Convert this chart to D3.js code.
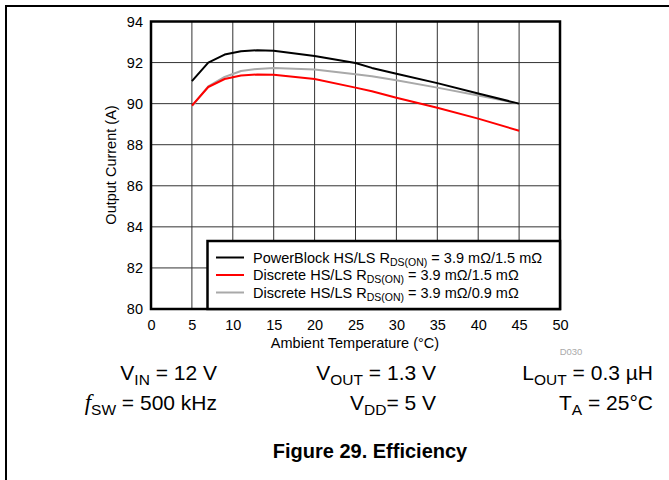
<!DOCTYPE html>
<html><head><meta charset="utf-8">
<script src="https://cdn.jsdelivr.net/npm/d3@7"></script>
<style>body{margin:0;background:#fff}svg{display:block;font-family:Arial,"Liberation Sans",sans-serif}</style>
</head><body><svg id="c" width="669" height="480"></svg>
<script>
const temps = [5, 7, 9, 11, 13, 15, 20, 25, 27, 30, 35, 40, 45];
const powerBlock = [91.1, 92.0, 92.39, 92.55, 92.6, 92.57, 92.32, 91.98, 91.74, 91.46, 91.0, 90.49, 90.0];
const discrete15 = [89.9, 90.81, 91.2, 91.37, 91.42, 91.41, 91.2, 90.78, 90.6, 90.29, 89.8, 89.27, 88.68];
const discrete09 = [89.87, 90.84, 91.3, 91.59, 91.69, 91.74, 91.66, 91.43, 91.33, 91.14, 90.78, 90.4, 90.0];
const xTicks = [0, 5, 10, 15, 20, 25, 30, 35, 40, 45, 50];
const yTicks = [80, 82, 84, 86, 88, 90, 92, 94];
const seriesNames = ["PowerBlock HS/LS R", "Discrete HS/LS R", "Discrete HS/LS R"];
const seriesValues = ["3.9 mΩ/1.5 mΩ", "3.9 mΩ/1.5 mΩ", "3.9 mΩ/0.9 mΩ"];
const seriesColors = ["#000000", "#ff0000", "#a9a9a9"];

const svg = d3.select("#c");
svg.append("path").attr("d","M6,480V6H669").attr("fill","none").attr("stroke","#000").attr("stroke-width",2);

const x = d3.scaleLinear().domain([0,50]).range([151,560]);
const y = d3.scaleLinear().domain([80,94]).range([309,21.5]);

const g = svg.append("g");
g.selectAll(".vg").data(xTicks).join("line").attr("x1",d=>x(d)).attr("x2",d=>x(d)).attr("y1",y(80)).attr("y2",y(94)).attr("stroke","#333").attr("stroke-width",1);
g.selectAll(".hg").data(yTicks).join("line").attr("x1",x(0)).attr("x2",x(50)).attr("y1",d=>y(d)).attr("y2",d=>y(d)).attr("stroke","#333").attr("stroke-width",1);

const xa = svg.append("g").attr("transform",`translate(0,${y(80)})`).call(d3.axisBottom(x).tickValues(xTicks).tickSize(0).tickPadding(11));
const ya = svg.append("g").attr("transform",`translate(${x(0)},0)`).call(d3.axisLeft(y).tickValues(yTicks).tickSize(0).tickPadding(8));
[xa,ya].forEach(a=>{a.select(".domain").remove();a.selectAll("text").attr("font-size",14.5).attr("fill","#000").attr("font-family","Arial, 'Liberation Sans', sans-serif");});

const line = d3.line().x((d,i)=>x(temps[i])).y(d=>y(d));
[[discrete09,seriesColors[2]],[powerBlock,seriesColors[0]],[discrete15,seriesColors[1]]].forEach(([s,c])=>{
  svg.append("path").attr("d",line(s)).attr("fill","none").attr("stroke",c).attr("stroke-width",2).attr("stroke-linejoin","round");
});

svg.append("rect").attr("x",x(0)).attr("y",y(94)).attr("width",x(50)-x(0)).attr("height",y(80)-y(94)).attr("fill","none").attr("stroke","#000").attr("stroke-width",2.5);

// legend
svg.append("rect").attr("x",207.5).attr("y",241).attr("width",x(50)-207.5).attr("height",y(80)-241).attr("fill","#fff").attr("stroke","#000").attr("stroke-width",2.5);
const ly=[257.5,275,292.5];
seriesNames.forEach((n,i)=>{
  svg.append("line").attr("x1",216).attr("x2",244).attr("y1",ly[i]).attr("y2",ly[i]).attr("stroke",seriesColors[i]).attr("stroke-width",2);
  const t=svg.append("text").attr("x",253).attr("y",ly[i]+5).attr("font-size",14.5);
  t.append("tspan").text(n);
  t.append("tspan").attr("dy",3).attr("font-size",10.5).text("DS(ON)");
  t.append("tspan").attr("dy",-3).text(" = "+seriesValues[i]);
});

svg.append("text").attr("x",355).attr("y",348).attr("text-anchor","middle").attr("font-size",14.5).text("Ambient Temperature (°C)");
svg.append("text").attr("transform","translate(116,165) rotate(-90)").attr("text-anchor","middle").attr("font-size",14.5).text("Output Current (A)");
svg.append("text").attr("x",571).attr("y",355).attr("text-anchor","middle").attr("font-size",9.5).attr("fill","#aaa").text("D030");

function cond(xr,yb,main,sub,rest,italic){
  const t=svg.append("text").attr("x",xr).attr("y",yb).attr("text-anchor","end").attr("font-size",21);
  const m=t.append("tspan").text(main);
  if(italic) m.attr("font-style","italic").attr("font-family","'Times New Roman','Liberation Serif',serif").attr("font-size",23);
  t.append("tspan").attr("dy",5).attr("font-size",15.5).text(sub);
  t.append("tspan").attr("dy",-5).text(rest);
}
cond(217,380,"V","IN"," = 12 V");
cond(436,380,"V","OUT"," = 1.3 V");
cond(653,380,"L","OUT"," = 0.3 µH");
cond(217,410,"f","SW"," = 500 kHz",true);
cond(436,410,"V","DD","= 5 V");
cond(653,410,"T","A"," = 25°C");

svg.append("text").attr("x",370).attr("y",458).attr("text-anchor","middle").attr("font-size",20).attr("font-weight","bold").text("Figure 29. Efficiency");
</script></body></html>
